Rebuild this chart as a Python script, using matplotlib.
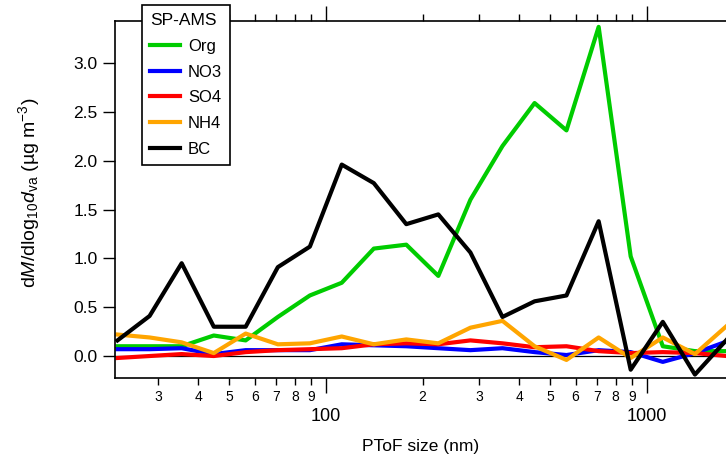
import numpy as np
import matplotlib
matplotlib.use("Agg")
import matplotlib.pyplot as plt
from matplotlib.ticker import LogLocator, FuncFormatter, MultipleLocator

plt.rcParams['font.family'] = ['Liberation Sans', 'DejaVu Sans']
plt.rcParams['mathtext.fontset'] = 'custom'
plt.rcParams['mathtext.rm'] = 'Liberation Sans'
plt.rcParams['mathtext.it'] = 'Liberation Sans:italic'

# PToF size bins (nm)
size_nm = [22.4, 28.2, 35.5, 44.7, 56.2, 70.8, 89.1, 112, 141, 178,
           224, 282, 355, 447, 562, 708, 891, 1122, 1413, 1778]

org = [0.10, 0.10, 0.10, 0.21, 0.16, 0.40, 0.62, 0.75, 1.10, 1.14,
       0.82, 1.60, 2.15, 2.59, 2.31, 3.37, 1.02, 0.10, 0.05, 0.05]
no3 = [0.07, 0.07, 0.08, 0.02, 0.06, 0.06, 0.06, 0.12, 0.11, 0.10,
       0.08, 0.06, 0.08, 0.04, 0.01, 0.06, 0.04, -0.06, 0.03, 0.15]
so4 = [-0.02, 0.00, 0.02, 0.00, 0.04, 0.06, 0.07, 0.08, 0.12, 0.13,
       0.12, 0.16, 0.13, 0.09, 0.10, 0.05, 0.03, 0.04, 0.03, 0.00]
nh4 = [0.22, 0.19, 0.14, 0.03, 0.23, 0.12, 0.13, 0.20, 0.12, 0.17,
       0.13, 0.29, 0.36, 0.10, -0.04, 0.19, -0.02, 0.19, 0.02, 0.31]
bc = [0.16, 0.41, 0.95, 0.30, 0.30, 0.91, 1.12, 1.96, 1.77, 1.35,
      1.45, 1.06, 0.40, 0.56, 0.62, 1.38, -0.14, 0.35, -0.19, 0.17]

series = [("Org", org, "#00cc00"), ("NO3", no3, "#0000ff"),
          ("SO4", so4, "#ff0000"), ("NH4", nh4, "#ffa500"),
          ("BC", bc, "black")]

fig = plt.figure(figsize=(7.26, 4.57), dpi=100)
ax = fig.add_axes([115/726, 1 - 378/457, 611/726, 357/457])

ax.axhline(0, color="black", lw=0.9, zorder=1)
for name, vals, col in series:
    ax.plot(size_nm, vals, color=col, lw=3, label=name, zorder=2)

ax.set_xscale("log")
ax.set_xlim(22, 1766)
ax.set_ylim(-0.225, 3.43)

ax.xaxis.set_major_locator(LogLocator(base=10))
ax.xaxis.set_minor_locator(LogLocator(base=10, subs=np.arange(2, 10)))
ax.xaxis.set_major_formatter(FuncFormatter(lambda v, p: "%d" % round(v)))
ax.xaxis.set_minor_formatter(FuncFormatter(
    lambda v, p: "%d" % round(v / 10 ** np.floor(np.log10(v) + 1e-9))))
ax.yaxis.set_major_locator(MultipleLocator(0.5))
ax.yaxis.set_major_formatter(FuncFormatter(lambda v, p: "%.1f" % v))

for s in ["left", "bottom", "top"]:
    ax.spines[s].set_linewidth(1.2)
ax.spines["right"].set_visible(False)

ax.tick_params(axis="x", which="both", direction="out", top=True, width=1)
ax.tick_params(axis="x", which="major", length=10.5, pad=11, labelsize=13)
ax.tick_params(axis="x", which="minor", length=5, pad=3.5, labelsize=10)
ax.tick_params(axis="y", which="major", direction="out", length=8.5, width=1,
               pad=4, labelsize=12.5, right=False)

ax.set_xlabel("PToF size (nm)", fontsize=12.5, va="center")
ax.xaxis.set_label_coords(0.5, -68/357)
ax.set_ylabel(r"d$\it{M}$/dlog$_{10}$$\it{d}$$_{\rm va}$ (µg m$^{-3}$)",
              fontsize=14, va="center")
ax.yaxis.set_label_coords(-86/611, 0.52)

leg = ax.legend(title="SP-AMS", loc="upper left",
                bbox_to_anchor=(142/726, 1 - 5/457), bbox_transform=fig.transFigure,
                borderaxespad=0, fancybox=False, edgecolor="black", framealpha=1,
                fontsize=12, title_fontsize=12.5, handlelength=1.75,
                handletextpad=0.5, labelspacing=0.64, borderpad=0.5,
                alignment="left")
leg.get_frame().set_linewidth(1.2)
leg.set_zorder(5)

fig.savefig("out.png", dpi=100)
